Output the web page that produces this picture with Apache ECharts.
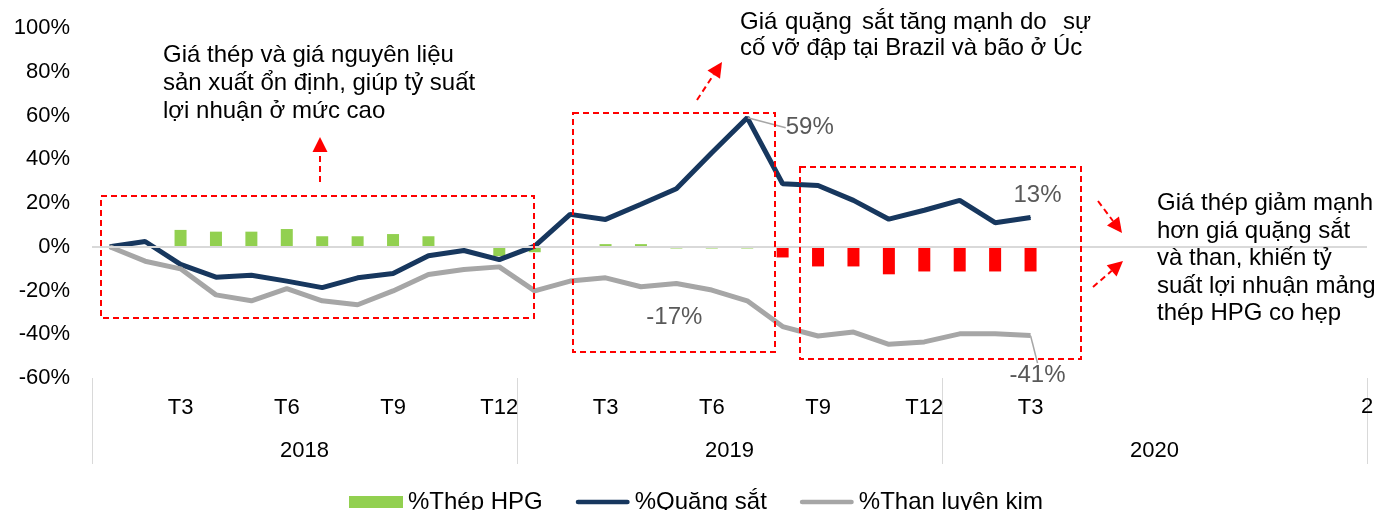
<!DOCTYPE html>
<html>
<head>
<meta charset="utf-8">
<script src="https://cdn.jsdelivr.net/npm/echarts@6/dist/echarts.min.js"></script>
<style>
  html, body { margin: 0; padding: 0; background: #fff; }
  #main { width: 1378px; height: 510px; }
</style>
</head>
<body>
<div id="main"></div>
<script>
// months Jan 2018 .. Dec 2020
var years = ['2018', '2019', '2020'];
var months = ['T1', 'T2', 'T3', 'T4', 'T5', 'T6', 'T7', 'T8', 'T9', 'T10', 'T11', 'T12'];
var shownTicks = {
  '2018': ['T3', 'T6', 'T9', 'T12'],
  '2019': ['T3', 'T6', 'T9', 'T12'],
  '2020': ['T3']
};

// % change, Jan 2018 -> Mar 2020
var steelHPG = [null, null, 7.7, 6.9, 6.9, 8.1, 4.8, 4.8, 5.8, 4.8, null, -4.3,
  -2.5, null, 1.2, 1.2, -0.8, -0.8, -0.8, -4.9, -9, -9, -12.6, -11.3,
  -11.3, -11.3, -11.3];
var ironOre = [0, 2.4, -8.1, -13.9, -13, -15.7, -18.7, -14.2, -12.2, -4.1, -1.7, -5.9,
  0.3, 14.8, 12.5, 19.4, 26.5, 43, 59, 28.8, 28, 21.2, 12.6, 16.7,
  21.2, 11, 13.4];
var cokingCoal = [0, -6.6, -10.1, -22, -24.7, -19.1, -24.7, -26.5, -20.2, -12.7, -10.4, -9.2,
  -20.2, -15.7, -14.2, -18.3, -16.8, -19.8, -24.7, -36.5, -40.8, -39, -44.6, -43.5,
  -39.8, -39.8, -40.6];

var categories = [];
var tickLabels = [];
years.forEach(function (y) {
  months.forEach(function (m) {
    categories.push(m + '/' + y);
    tickLabels.push(shownTicks[y].indexOf(m) >= 0 ? m : '');
  });
});

var FONT = "'Liberation Sans', Arial, sans-serif";
var GREEN = '#92d050', RED = '#ff0000', NAVY = '#17375e', GREY = '#a6a6a6';
var redStart = categories.indexOf('T8/2019');
var LINE_ICON = 'path://M2.5,0 L54.5,0 A2.5,2.5 0 0 1 54.5,5 L2.5,5 A2.5,2.5 0 0 1 2.5,0 Z';

// labelled points: category -> placement
var oreLabels = {
  'T7/2019': { position: 'right', dx: 33, dy: 10, guide: true },
  'T3/2020': { position: 'top', dx: 7, dy: -5, guide: false }
};
var coalLabels = {
  'T5/2019': { position: 'bottom', dx: -2, dy: 16, guide: false },
  'T3/2020': { position: 'bottom', dx: 7, dy: 22, guide: true }
};

function lineData(values, labels) {
  return values.map(function (v, i) {
    var cfg = labels[categories[i]];
    if (!cfg) return v;
    return {
      value: v,
      label: { show: true, position: cfg.position },
      labelLine: { show: cfg.guide }
    };
  });
}
function layoutFor(labels) {
  return function (p) {
    var cfg = labels[categories[p.dataIndex]];
    return cfg ? { dx: cfg.dx, dy: cfg.dy } : {};
  };
}

var labelStyle = {
  show: false,
  color: '#595959',
  fontSize: 24,
  fontFamily: FONT,
  formatter: function (p) { return Math.round(p.value) + '%'; }
};

// annotation helpers
function box(x, y, w, h) {
  return {
    type: 'rect', z: 100,
    shape: { x: x, y: y, width: w, height: h },
    style: { fill: 'none', stroke: RED, lineWidth: 2, lineDash: [6, 4] }
  };
}
function arrow(x1, y1, x2, y2) {
  var dx = x2 - x1, dy = y2 - y1, len = Math.sqrt(dx * dx + dy * dy);
  var ux = dx / len, uy = dy / len, hl = 15, hw = 7.5;
  var bx = x2 - ux * hl, by = y2 - uy * hl;
  return [{
    type: 'line', z: 100,
    shape: { x1: x1, y1: y1, x2: bx, y2: by },
    style: { stroke: RED, lineWidth: 2, lineDash: [6, 4] }
  }, {
    type: 'polygon', z: 100,
    shape: { points: [[x2, y2], [bx - uy * hw, by + ux * hw], [bx + uy * hw, by - ux * hw]] },
    style: { fill: RED }
  }];
}
function text(x, y, s, size) {
  return {
    type: 'text', z: 100, x: x, y: y,
    style: { text: s, fill: '#000', fontSize: size || 24, fontFamily: FONT, verticalAlign: 'middle' }
  };
}

var note1 = ['Giá thép và giá nguyên liệu', 'sản xuất ổn định, giúp tỷ suất', 'lợi nhuận ở mức cao'];
var note2a = [['Giá', 740], ['quặng', 785], ['sắt', 862], ['tăng', 900], ['mạnh', 953], ['do', 1020], ['sự', 1063]];
var note2b = 'cố vỡ đập tại Brazil và bão ở Úc';
var note3 = ['Giá thép giảm mạnh', 'hơn giá quặng sắt', 'và than, khiến tỷ', 'suất lợi nhuận mảng', 'thép HPG co hẹp'];

var graphics = [];
graphics.push(box(101, 196, 433, 122), box(573, 113, 202, 239), box(800, 167, 281, 192));
graphics = graphics.concat(arrow(320, 182, 320, 137), arrow(697, 100, 722, 62),
  arrow(1098, 201, 1122, 233), arrow(1093, 287, 1123, 261));
note1.forEach(function (s, i) { graphics.push(text(163, 55 + i * 28, s)); });
note2a.forEach(function (w) { graphics.push(text(w[1], 22, w[0])); });
graphics.push(text(740, 48.5, note2b));
note3.forEach(function (s, i) { graphics.push(text(1157, 203.5 + i * 27.5, s)); });
graphics.push(text(1361, 407, '2', 22));

var chart = echarts.init(document.getElementById('main'));
var option = {
  animation: false,
  textStyle: { fontFamily: FONT },
  grid: { left: 92, right: 11, top: 28, bottom: 132 },
  legend: {
    left: 344, top: 485,
    itemWidth: 54, itemHeight: 12, itemGap: 33,
    textStyle: { color: '#000', fontSize: 24, fontFamily: FONT },
    data: [
      { name: '%Thép HPG', icon: 'rect', itemStyle: { color: GREEN } },
      { name: '%Quặng sắt', icon: LINE_ICON },
      { name: '%Than luyện kim', icon: LINE_ICON }
    ]
  },
  xAxis: [{
    type: 'category',
    data: categories,
    axisLine: { show: false },
    axisTick: { show: false },
    axisLabel: {
      interval: 0, margin: 19, color: '#000', fontSize: 22, fontFamily: FONT,
      formatter: function (v, i) { return tickLabels[i]; }
    }
  }, {
    type: 'category',
    position: 'bottom',
    offset: 0,
    data: years,
    axisLine: { show: false },
    axisTick: { show: true, interval: 0, length: 86, lineStyle: { color: '#d9d9d9', width: 1 } },
    axisLabel: { interval: 0, margin: 62, color: '#000', fontSize: 22, fontFamily: FONT }
  }],
  yAxis: {
    type: 'value',
    min: -60, max: 100, interval: 20,
    axisLine: { show: false },
    axisTick: { show: false },
    splitLine: { show: false },
    axisLabel: { margin: 22, color: '#000', fontSize: 22, fontFamily: FONT, formatter: '{value}%' }
  },
  series: [{
    name: '%Thép HPG',
    type: 'bar',
    barWidth: 12,
    data: steelHPG.map(function (v, i) {
      return { value: v, itemStyle: { color: i >= redStart ? RED : GREEN } };
    }),
    itemStyle: { color: GREEN },
    markLine: {
      silent: true, symbol: ['none', 'none'], label: { show: false },
      lineStyle: { color: '#d9d9d9', width: 2, type: 'solid' },
      data: [{ yAxis: 0 }]
    }
  }, {
    name: '%Quặng sắt',
    type: 'line',
    data: lineData(ironOre, oreLabels),
    symbol: 'circle', symbolSize: 1, showSymbol: true,
    itemStyle: { color: NAVY },
    lineStyle: { color: NAVY, width: 5 },
    label: labelStyle,
    labelLine: { show: false, lineStyle: { color: GREY, width: 1.5 } },
    labelLayout: layoutFor(oreLabels)
  }, {
    name: '%Than luyện kim',
    type: 'line',
    data: lineData(cokingCoal, coalLabels),
    symbol: 'circle', symbolSize: 1, showSymbol: true,
    itemStyle: { color: GREY },
    lineStyle: { color: GREY, width: 5 },
    label: labelStyle,
    labelLine: { show: false, lineStyle: { color: GREY, width: 1.5 } },
    labelLayout: layoutFor(coalLabels)
  }],
  graphic: graphics
};
chart.setOption(option);
</script>
</body>
</html>
